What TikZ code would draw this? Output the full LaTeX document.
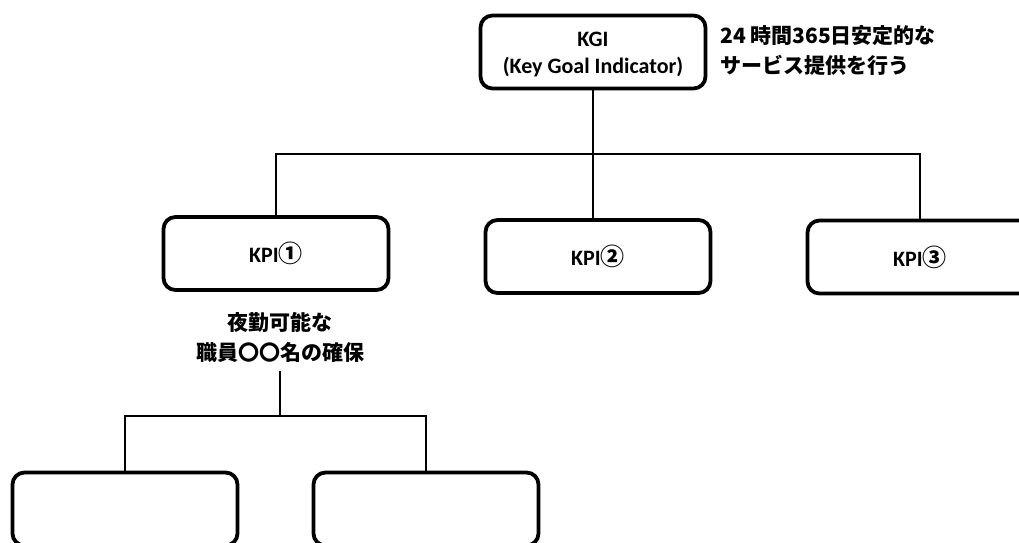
\documentclass[tikz,border=0pt]{standalone}
\usepackage{fontspec}
\setmainfont{Carlito}
\newfontfamily\jpfont{Noto Sans CJK JP}
\newcommand{\lowered}[1]{\raisebox{-3pt}[\height][\depth]{#1}}
\begin{document}
\begin{tikzpicture}[x=1pt,y=-1pt,
  box/.style={draw, line width=3.8pt, rounded corners=12pt,
    minimum width=225pt, minimum height=73pt, inner sep=0pt,
    font=\fontsize{22}{27}\selectfont\bfseries, align=center},
  link/.style={line width=2pt},
  note/.style={font=\jpfont\fontsize{21}{30}\selectfont\bfseries, inner sep=0pt}]
\useasboundingbox (0,0) rectangle (1019,542);
% goal level
\node[box] (kgi) at (593,52) {\lowered{KGI}\\\lowered{(Key Goal Indicator)}};
\node[note, anchor=west, align=left] (goal) at (720,51) {24 時間365日安定的な\\サービス提供を行う};
% indicator level
\node[box] (kpi1) at (276,253.5) {KPI{\jpfont\fontsize{24}{27}\selectfont ①}};
\node[box] (kpi2) at (598,256.5) {KPI{\jpfont\fontsize{24}{27}\selectfont ②}};
\node[box] (kpi3) at (920,257) {KPI{\jpfont\fontsize{24}{27}\selectfont ③}};
\node[note, align=center] (staff) at (280,337) {夜勤可能な\\職員〇〇名の確保};
% sub-level
\node[box] (sub1) at (125,509) {};
\node[box] (sub2) at (426,509) {};
% tree connectors
\coordinate (bus) at (0,153.5);
\coordinate (bus2) at (0,416);
\draw[link] (kgi.south) -- (kgi.south |- kpi2.north);
\draw[link] (kpi1.north) -- (kpi1.north |- bus) -- (kpi3.north |- bus) -- (kpi3.north);
\draw[link, shorten <=9pt] (staff.south) -- (staff.south |- bus2);
\draw[link] (sub1.north) -- (sub1.north |- bus2) -- (sub2.north |- bus2) -- (sub2.north);
\end{tikzpicture}
\end{document}
